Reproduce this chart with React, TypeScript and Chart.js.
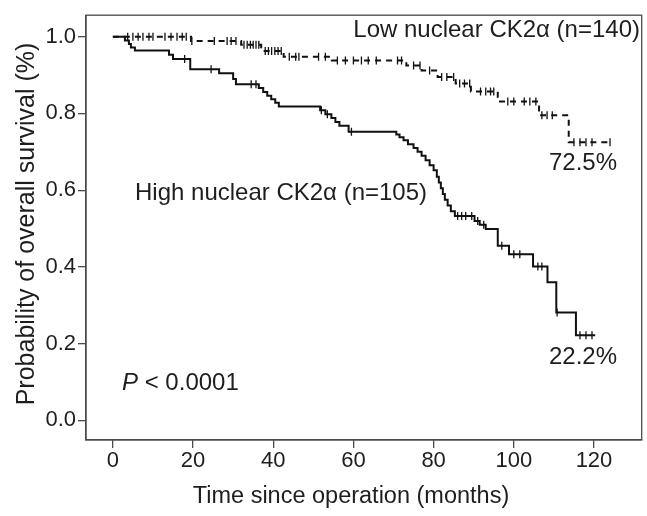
import React, { useEffect, useRef } from "react";
import { Chart, registerables } from "chart.js";

Chart.register(...registerables);

// ---- Data ----
const xTicks = [0, 20, 40, 60, 80, 100, 120];
const yTicks = [0.0, 0.2, 0.4, 0.6, 0.8, 1.0];

// High nuclear CK2α (n=105): event times (months) and survival after each drop
const highTimes = [3, 4, 4.5, 5.5, 14, 15, 19.3, 26.5, 30, 30.7, 36.4, 37.5, 38.5, 39.5, 40.5, 41.4,
  51.7, 53, 54.5, 55.5, 56.5, 58.8, 70.7, 71.5, 72.5, 73.6, 75, 76, 77, 78, 79, 80, 80.8, 81.3,
  81.8, 82.3, 82.8, 83.5, 84.3, 85.3, 90.2, 91.5, 93, 96, 98.8, 104.8, 108.4, 110.6, 115.5];
const highSurv = [0.99, 0.981, 0.972, 0.964, 0.953, 0.942, 0.915, 0.905, 0.89, 0.876, 0.866, 0.856,
  0.846, 0.837, 0.828, 0.818, 0.808, 0.798, 0.788, 0.778, 0.768, 0.752, 0.745, 0.738, 0.73, 0.72,
  0.71, 0.70, 0.69, 0.678, 0.665, 0.652, 0.635, 0.62, 0.605, 0.59, 0.575, 0.56, 0.545, 0.533, 0.52,
  0.51, 0.499, 0.455, 0.433, 0.401, 0.36, 0.281, 0.222];
const highEnd = 120.3;
const highCensor = [17.9, 24.5, 34.5, 35.7, 52, 53.5, 59.5, 86, 87, 88, 89.5, 91, 92.5, 97, 100,
  101.5, 106, 107, 110.8, 116.5, 118, 119.5];

// Low nuclear CK2α (n=140)
const lowTimes = [19.5, 32, 37, 42.6, 54.6, 73.2, 77, 81, 85.5, 89.3, 96, 106.3, 113.7];
const lowSurv = [0.989, 0.979, 0.963, 0.948, 0.938, 0.925, 0.912, 0.895, 0.878, 0.857, 0.831, 0.795, 0.725];
const lowEnd = 124;
const lowCensor = [3.7, 5, 6.3, 7.5, 9, 10, 13, 14.5, 16, 17.3, 18.3, 19.7, 25.3, 28.5, 29.5, 30.7,
  32.7, 33.5, 34.3, 35, 35.7, 36.4, 38, 38.8, 39.6, 40.4, 41.2, 42, 44, 45.6, 46.4, 51.3, 53, 56,
  58, 60, 62, 63.7, 65.7, 71, 72, 75, 76.6, 79, 82, 83.3, 85, 86.5, 87.7, 89, 91.7, 93, 94.2, 95,
  98.5, 100, 102.6, 104, 105.5, 107, 108.3, 109.6, 115, 116.5, 118, 119.5, 124];

function survAt(times: number[], surv: number[], t: number): number {
  let v = 1;
  for (let i = 0; i < times.length; i++) if (times[i] <= t) v = surv[i];
  return v;
}
function stepPoints(times: number[], surv: number[], end: number) {
  const pts = [{ x: 0, y: 1 }];
  times.forEach((t, i) => pts.push({ x: t, y: surv[i] }));
  pts.push({ x: end, y: surv[surv.length - 1] });
  return pts;
}
function censorPoints(times: number[], surv: number[], cens: number[]) {
  return cens.map((t) => ({ x: t, y: survAt(times, surv, t) }));
}

const FONT = "'Liberation Sans', Arial, sans-serif";
const AXIS = "#4a4a4a";
const TEXT = "#1e1e1e";

const framePlugin = {
  id: "frameAndText",
  afterDraw(chart: any) {
    const { ctx, chartArea } = chart;
    ctx.save();
    ctx.strokeStyle = AXIS;
    ctx.lineWidth = 1.3;
    ctx.strokeRect(chartArea.left, chartArea.top, chartArea.right - chartArea.left, chartArea.bottom - chartArea.top);
    ctx.fillStyle = TEXT;
    ctx.font = `24px ${FONT}`;
    ctx.textBaseline = "middle";
    ctx.textAlign = "right";
    ctx.fillText("Low nuclear CK2α (n=140)", 640, 30);
    ctx.fillText("72.5%", 617, 163);
    ctx.fillText("22.2%", 617, 357);
    ctx.textAlign = "left";
    ctx.fillText("High nuclear CK2α (n=105)", 135, 193);
    ctx.font = `italic 24px ${FONT}`;
    ctx.fillText("P", 122, 383);
    const pw = ctx.measureText("P").width;
    ctx.font = `24px ${FONT}`;
    ctx.fillText(" < 0.0001", 122 + pw, 383);
    // axis titles
    ctx.textAlign = "center";
    ctx.font = `23.5px ${FONT}`;
    ctx.fillText("Time since operation (months)", 351, 497);
    ctx.font = `25px ${FONT}`;
    ctx.translate(27, 224);
    ctx.rotate(-Math.PI / 2);
    ctx.fillText("Probability of overall survival (%)", 0, 0);
    ctx.restore();
  },
};

export default function App() {
  const ref = useRef<HTMLCanvasElement>(null);
  useEffect(() => {
    document.body.style.margin = "0";
    const chart = new Chart(ref.current!, {
      type: "line",
      data: {
        datasets: [
          {
            label: "High",
            data: stepPoints(highTimes, highSurv, highEnd),
            stepped: true,
            borderColor: "#111",
            borderWidth: 2,
            pointRadius: 0,
            fill: false,
          },
          {
            label: "Low",
            data: stepPoints(lowTimes, lowSurv, lowEnd),
            stepped: true,
            borderColor: "#111",
            borderWidth: 2,
            borderDash: [6, 5],
            pointRadius: 0,
            fill: false,
          },
          {
            type: "scatter",
            label: "High censored",
            data: censorPoints(highTimes, highSurv, highCensor),
            pointStyle: "line",
            rotation: 90,
            radius: 4,
            borderColor: "#111",
            borderWidth: 1.3,
          } as any,
          {
            type: "scatter",
            label: "Low censored",
            data: censorPoints(lowTimes, lowSurv, lowCensor),
            pointStyle: "line",
            rotation: 90,
            radius: 4,
            borderColor: "#111",
            borderWidth: 1.3,
          } as any,
        ],
      },
      options: {
        animation: false,
        responsive: false,
        layout: { padding: { top: 7, right: 2, left: 0, bottom: 0 } },
        plugins: { legend: { display: false }, tooltip: { enabled: false } },
        scales: {
          x: {
            type: "linear",
            min: -6.7,
            max: 131.9,
            afterBuildTicks: (s: any) => { s.ticks = xTicks.map((v) => ({ value: v })); },
            afterFit: (s: any) => { s.height = 76; },
            grid: { drawOnChartArea: false, drawTicks: true, tickLength: 8, color: AXIS, lineWidth: 1.3 },
            border: { display: true, color: AXIS, width: 1.3 },
            ticks: { font: { family: FONT, size: 22 }, color: TEXT, padding: 0, maxRotation: 0 },
          },
          y: {
            type: "linear",
            min: -0.051,
            max: 1.056,
            afterBuildTicks: (s: any) => { s.ticks = yTicks.map((v) => ({ value: v })); },
            afterFit: (s: any) => { s.width = 86; },
            grid: { drawOnChartArea: false, drawTicks: true, tickLength: 8, color: AXIS, lineWidth: 1.3 },
            border: { display: true, color: AXIS, width: 1.3 },
            ticks: {
              font: { family: FONT, size: 22 },
              color: TEXT,
              padding: 2,
              callback: (v: any) => Number(v).toFixed(1),
            },
          },
        },
      },
      plugins: [framePlugin],
    });
    return () => chart.destroy();
  }, []);
  return (
    <div style={{ position: "fixed", left: 0, top: 0, width: 647, height: 516, background: "#fff" }}>
      <canvas ref={ref} width={647} height={516} />
    </div>
  );
}
